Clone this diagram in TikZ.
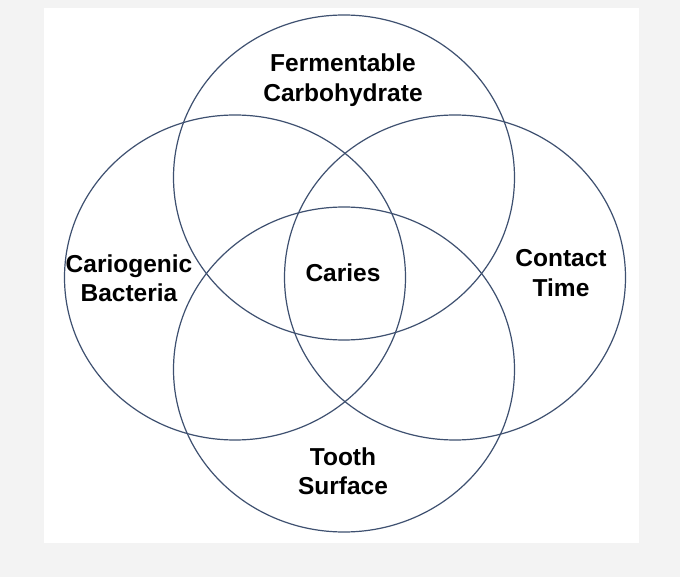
\documentclass[tikz,border=0pt]{standalone}
\usepackage{fontspec}
\setmainfont{Liberation Sans}
\usetikzlibrary{positioning}
\definecolor{ringblue}{RGB}{62,80,112}
\definecolor{pagegray}{RGB}{243,243,243}

\begin{document}
\begin{tikzpicture}[x=1pt,y=-1pt,
	ring/.style={draw=ringblue,line width=1.2pt}, % circle outline
	every node/.style={align=center,inner sep=0pt,
		font=\fontsize{24.5}{29.5}\selectfont\bfseries}]
	\fill[pagegray] (0,0) rectangle (680,577);
	\fill[white] (44,8) rectangle (639,543);

	% centres of the four circles
	\coordinate (cTop) at (344,177.5);
	\coordinate (cLeft) at (235,277.5);
	\coordinate (cRight) at (455,277.5);
	\coordinate (cBottom) at (344,369.5);

	\draw[ring] (cTop) ellipse [x radius=170.5, y radius=162.5];
	\draw[ring] (cLeft) ellipse [x radius=170.5, y radius=162.5];
	\draw[ring] (cRight) ellipse [x radius=170.5, y radius=162.5];
	\draw[ring] (cBottom) ellipse [x radius=170.5, y radius=162.5];

	\node (ferm) at (343,80)  {Fermentable\\Carbohydrate};
	\node (bact) at (129,278) {Cariogenic\\Bacteria};
	\node (caries) at (343,273) {Caries};
	\node (time) at (561,273) {Contact\\Time};
	\node (tooth) at (343,471) {Tooth\\Surface};

\end{tikzpicture}
\end{document}
